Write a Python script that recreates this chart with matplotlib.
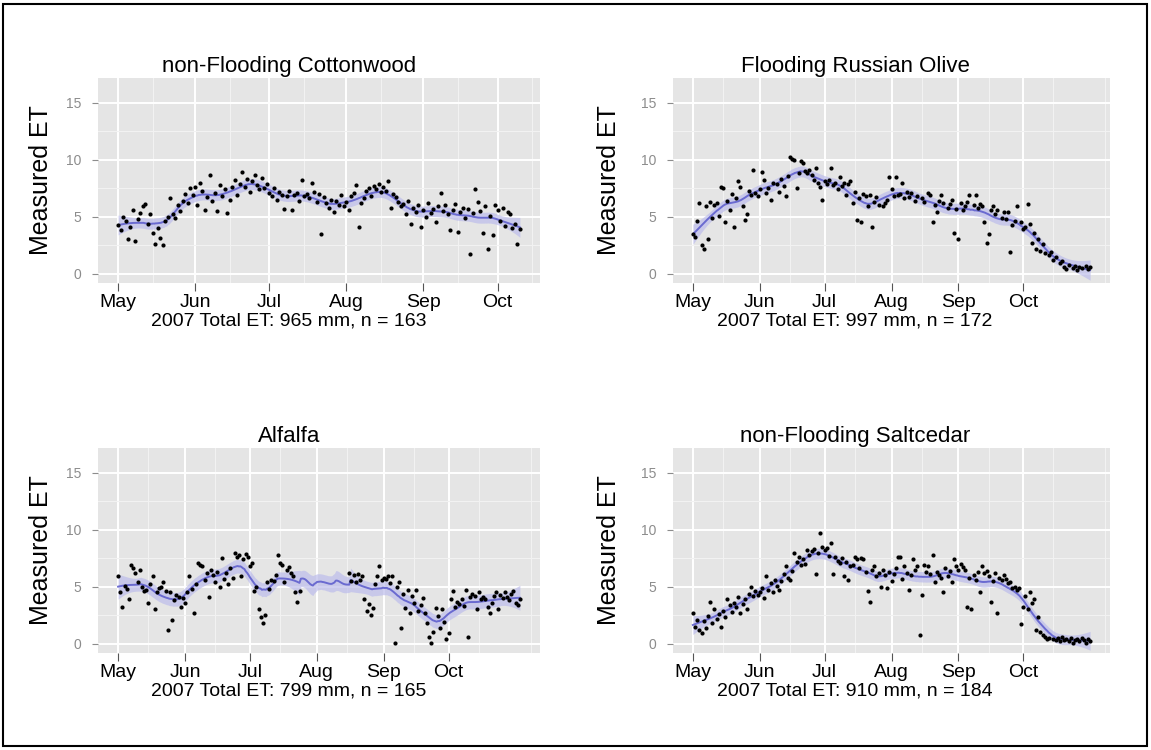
import numpy as np
import matplotlib
matplotlib.use('Agg')
import matplotlib.pyplot as plt
import matplotlib.dates as mdates
from matplotlib.patches import Rectangle

plt.rcParams['font.family'] = ['Liberation Sans', 'DejaVu Sans']

nan = np.nan
start_date = np.datetime64('2007-05-01')

titles = ['non-Flooding Cottonwood', 'Flooding Russian Olive', 'Alfalfa', 'non-Flooding Saltcedar']
total_et = [965, 997, 799, 910]
n_obs = [163, 172, 165, 184]
month_labels = ['May', 'Jun', 'Jul', 'Aug', 'Sep', 'Oct']
month_starts = ['2007-05-01', '2007-06-01', '2007-07-01', '2007-08-01', '2007-09-01', '2007-10-01']
month_mids = ['2007-05-15', '2007-06-15', '2007-07-15', '2007-08-15', '2007-09-15', '2007-10-15', '2007-11-08']

# daily measured ET (mm/day), first value is May 1, nan = no measurement
cottonwood = [
    4.3, 3.8, 5.0, 4.6, 3.0, 4.1, 5.6, 2.9, 4.8, 5.3,
    5.9, 6.1, 4.4, 5.2, 3.6, 2.6, 4.0, 3.1, 2.5, 4.6,
    5.0, 6.6, 5.2, 4.9, 6.0, 5.5, 6.4, 7.0, 6.2, 7.5,
    6.9, 7.6, 6.0, 8.0, 7.3, 5.6, 6.7, 8.7, 6.4, 7.1,
    5.5, 7.8, 6.8, 7.4, 5.3, 6.5, 7.6, 8.2, 6.9, 7.9,
    8.9, 7.6, 8.3, 7.2, 8.1, 8.7, 7.8, 7.4, 8.4, 7.5,
    7.9, 7.1, 6.8, 7.5, 6.5, 7.2, 6.9, 5.7, 6.8, 7.3,
    5.6, 6.9, 7.1, 6.4, 8.2, 6.8, 7.0, 6.6, 8.0, 7.2,
    6.3, 7.0, 3.5, 6.7, 6.2, 5.8, 6.5, 5.4, 6.4, 6.0,
    6.9, 5.9, 6.3, 5.6, 6.8, 7.1, 7.8, 4.1, 6.2, 6.6,
    7.3, 7.5, 6.8, 7.7, 7.4, 7.9, 7.2, 7.6, 7.3, 8.1,
    5.8, 7.0, 6.7, 6.3, 5.9, 6.1, 5.2, 6.4, 4.4, 5.8,
    5.4, 6.0, 4.1, 5.6, 5.0, 6.2, 5.3, 5.7, 4.5, 5.9,
    7.1, 5.5, 6.0, 5.2, 3.8, 5.6, 6.1, 3.7, 5.4, 5.8,
    4.9, 5.7, 1.7, 5.3, 7.4, 6.3, 5.5, 3.6, 5.9, 2.2,
    5.1, 3.4, 6.0, 5.6, 4.6, 5.8, 4.2, 5.4, 5.2, 4.0,
    4.4, 2.6, 3.9,
]

russian_olive = [
    3.5, 3.2, 4.6, 6.2, 2.5, 2.2, 5.9, 3.0, 6.3, 4.9,
    6.0, 6.2, 5.1, 7.6, 7.5, 4.5, 6.4, 5.6, 7.0, 4.1,
    6.6, 8.1, 7.6, 5.9, 4.7, 5.2, 7.3, 6.9, 9.1, 7.1,
    6.8, 7.4, 8.9, 8.2, 7.1, 7.5, 6.5, 8.0, nan, 7.9,
    7.2, 8.3, 7.7, 6.8, 8.6, 10.2, 10.1, 10.0, 7.5, 8.8,
    9.9, 9.7, 9.0, 8.8, 9.1, 8.7, 8.2, 9.3, 8.0, 7.6,
    6.5, 8.1, 7.9, 8.2, 9.3, 7.8, 8.0, 7.4, 8.5, 7.7,
    8.0, 6.9, 7.9, 8.1, 6.2, 7.2, 4.7, 6.6, 4.5, 7.0,
    6.8, 5.9, 6.9, 4.1, 6.3, 6.7, 6.0, nan, 5.9, 6.2,
    6.5, 8.5, 7.4, 6.8, 8.5, 6.9, 7.0, 8.0, 6.6, 7.2,
    6.7, 7.1, nan, 6.4, 6.8, nan, 6.6, 6.3, nan, 7.1,
    6.9, 4.5, 6.0, 5.4, 6.4, 6.9, 6.2, nan, 5.8, 6.1,
    6.5, 3.6, 5.7, 3.0, 6.2, 5.6, 5.9, 6.3, 6.9, nan,
    6.0, 6.9, 5.8, 6.1, 5.9, 4.5, 2.7, 3.5, 5.6, 5.9,
    5.2, 5.6, nan, 4.9, 5.4, 4.8, 5.4, 1.9, 4.3, 4.6,
    5.9, nan, 4.5, 3.9, 4.1, 6.1, 4.4, 2.7, 3.6, 2.2,
    3.0, 2.0, 2.6, 1.8, nan, 1.6, 1.9, 1.2, 1.5, nan,
    0.9, 1.1, 0.6, 0.4, 0.8, nan, 0.5, 0.7, 0.3, 0.6,
    0.5, nan, 0.7, 0.4, 0.6,
]

alfalfa = [
    5.9, 4.5, 3.2, 5.1, 4.8, 3.9, 6.9, 6.6, 6.2, 5.4,
    6.5, 5.0, 4.6, 4.7, 3.6, 5.2, 5.9, 3.0, 4.5, 4.9,
    5.0, 5.4, 4.6, 1.2, 4.5, 2.1, 3.8, 4.3, 4.1, 3.2,
    4.0, 3.6, 4.5, 5.9, 4.8, 2.7, 5.2, 7.1, 6.9, 6.8,
    5.6, 6.2, 4.1, 6.5, 6.0, 5.4, 6.3, 5.0, 7.5, 5.7,
    6.2, 5.2, 6.6, 5.8, 8.0, 7.6, 7.8, 5.9, 7.4, 7.9,
    7.6, 6.8, 7.1, 4.6, 5.0, 3.0, 2.3, 1.8, 2.5, 5.4,
    4.8, 5.6, 5.5, 6.0, 7.8, 7.1, 6.9, 5.4, 6.5, 6.7,
    6.2, 5.9, 4.5, 3.7, 4.6, nan, nan, nan, nan, nan,
    nan, nan, nan, nan, nan, nan, nan, nan, nan, nan,
    nan, nan, nan, nan, nan, nan, nan, 6.2, 5.5, 6.0,
    5.4, 6.1, 5.6, 5.9, 3.9, 2.9, 3.5, 2.5, 3.1, 5.2,
    5.9, 6.8, 5.6, 5.8, 5.7, 5.9, 5.3, 5.9, 0.1, 5.0,
    5.4, 1.4, 4.4, 3.1, 4.7, 2.7, 4.2, 3.6, 4.7, 2.9,
    3.4, 4.0, 2.7, 1.8, 0.6, 0.1, 1.0, 3.1, 2.4, 1.4,
    3.0, 1.9, 0.4, 0.9, 3.9, 4.6, 3.2, 3.7, 3.5, 3.9,
    3.3, 4.7, 0.6, 4.1, 4.4, 4.2, 3.0, 4.5, 3.9, 4.1,
    3.9, 3.2, 2.7, 3.6, 4.2, 4.5, 3.0, 4.3, 4.0, 4.5,
    4.1, 3.8, 4.4, 4.6, 3.6, 3.4, 3.9,
]

saltcedar = [
    2.7, 1.5, 2.1, 1.2, 0.9, 2.0, 1.4, 2.4, 3.7, 1.8,
    3.0, 2.2, 2.6, 1.5, 2.9, 2.3, 3.9, 3.4, 2.8, 3.6,
    3.2, 4.1, 2.7, 3.5, 3.9, 3.0, 4.4, 5.0, 4.2, 4.6,
    4.3, 4.5, 4.9, 4.0, 5.9, 4.7, 5.3, 4.5, 5.6, 5.1,
    4.7, 5.5, 6.1, 6.8, 5.8, 5.6, 6.4, 8.0, 7.2, 7.6,
    6.9, 7.4, 7.0, 8.2, 7.8, 8.1, 8.3, 6.1, 8.0, 9.7,
    8.5, 8.2, 8.4, 7.7, 8.8, 6.1, 7.6, 7.3, 7.1, 7.5,
    5.9, 7.2, 5.6, 6.8, 6.9, 7.6, 7.4, 6.6, 7.5, 7.4,
    6.3, 4.6, 3.7, 6.5, 6.8, 5.9, 6.2, 5.0, 6.5, 6.0,
    4.9, 6.3, 5.5, 6.1, 6.6, 7.6, 7.6, 5.7, 6.8, 6.2,
    4.7, 6.0, 7.4, 6.5, 6.8, 0.8, 4.3, 6.9, 6.3, 6.8,
    6.1, 7.8, 5.4, 6.3, 6.0, 5.8, 4.5, 6.6, 5.9, 6.4,
    5.4, 7.4, 6.8, 6.5, 7.0, 6.7, 6.5, 3.2, 5.8, 3.0,
    6.0, 5.6, 6.3, 4.5, 6.8, 6.2, 6.4, 5.9, 3.7, 5.5,
    6.2, 2.7, 5.8, 5.6, 6.0, 5.7, 5.3, 5.4, 4.9, 5.0,
    4.7, 4.9, 1.7, 3.2, 4.2, 3.0, 4.5, 3.6, 3.9, 1.2,
    2.3, 1.0, 0.8, 0.6, 0.4, 0.5, nan, 0.4, 0.3, 0.5,
    0.2, 0.6, 0.3, 0.4, 0.2, 0.5, 0.1, 0.3, 0.4, 0.2,
    0.5, 0.3, 0.1, 0.4, 0.2,
]

series = [cottonwood, russian_olive, alfalfa, saltcedar]


def loess(x, y, xs, frac=0.13):
    # local linear regression with tricube weights, like geom_smooth(method="loess")
    n = len(x)
    k = int(np.ceil(frac * n))

    def row(x0):
        d = np.abs(x - x0)
        h = np.sort(d)[k - 1]
        # inside a gap in the record, reach points on both sides
        left, right = x0 - x[x <= x0], x[x >= x0] - x0
        if len(left) and len(right):
            h = max(h, 1.3 * max(left.min(), right.min()))
        h = max(h, 1e-9) * 1.0001
        w = np.clip(1 - (d / h) ** 3, 0, None) ** 3
        X = np.column_stack([np.ones(n), x - x0])
        W = X.T * w
        return np.linalg.solve(W @ X, W)[0]

    L = np.array([row(x0) for x0 in x])
    res = y - L @ y
    sigma = np.sqrt(np.sum(res ** 2) / (n - np.trace(L)))
    Ls = np.array([row(x0) for x0 in xs])
    return Ls @ y, sigma * np.sqrt(np.sum(Ls ** 2, axis=1))


W, H = 1151, 750
fig = plt.figure(figsize=(W / 100, H / 100), dpi=100)
# axes boxes in pixels: left, top, right, bottom
boxes = [(98, 78, 540, 283), (673, 78, 1110, 283), (98, 448, 540, 653), (673, 448, 1110, 653)]
ylab_x = [53, 621, 53, 621]     # right edge of the rotated y label
centre_x = [289, 855, 289, 855]  # titles and x labels centred on the half page

t0 = mdates.date2num(start_date)
major_x = [mdates.date2num(np.datetime64(d)) for d in month_starts]
minor_x = [mdates.date2num(np.datetime64(d)) for d in month_mids]

for i, vals in enumerate(series):
    l, t, r, b = boxes[i]
    ax = fig.add_axes([l / W, 1 - b / H, (r - l) / W, (b - t) / H])
    v = np.array(vals, dtype=float)
    days = t0 + np.arange(len(v))
    ok = ~np.isnan(v)
    x, y = days[ok], v[ok]

    xs = np.linspace(x.min(), x.max(), 300)
    fit, se = loess(x, y, xs)

    ax.set_facecolor('#E5E5E5')
    for m in minor_x:
        ax.axvline(m, color='#F2F2F2', lw=0.8, zorder=0)
    for m in major_x:
        ax.axvline(m, color='white', lw=1.4, zorder=0)
    for yy in [2.5, 7.5, 12.5]:
        ax.axhline(yy, color='#F2F2F2', lw=0.8, zorder=0)
    for yy in [0, 5, 10, 15]:
        ax.axhline(yy, color='white', lw=1.4, zorder=0)

    ax.fill_between(xs, fit - 1.96 * se, fit + 1.96 * se, color='#BDBDEB', alpha=0.7, lw=0, zorder=1)
    ax.plot(xs, fit, color='#6A6AD0', lw=1.4, zorder=2)
    ax.scatter(x, y, s=9, color='black', lw=0, zorder=3)

    span = x.max() - x.min()
    ax.set_xlim(x.min() - 0.05 * span, x.max() + 0.05 * span)
    ax.set_ylim(-0.82, 17.18)
    ax.set_xticks(major_x)
    ax.set_xticklabels(month_labels, fontsize=14)
    ax.set_yticks([0, 5, 10, 15])
    ax.set_yticklabels(['0', '5', '10', '15'], fontsize=10, color='#8C8C8C')
    ax.tick_params(axis='x', length=6, width=0.8, color='#555555', pad=2)
    ax.tick_params(axis='y', length=4, width=0.8, color='#8C8C8C', pad=8)
    for s in ax.spines.values():
        s.set_visible(False)

    cx = (centre_x[i] - l) / (r - l)
    ax.set_title(titles[i], fontsize=16, pad=4, x=cx)
    ax.set_xlabel(f'2007 Total ET: {total_et[i]} mm, n = {n_obs[i]}', fontsize=14, labelpad=1)
    ax.xaxis.label.set_x(cx)
    ax.set_ylabel('Measured ET', fontsize=18)
    ax.yaxis.set_label_coords((ylab_x[i] - l) / (r - l), 0.5)

fig.patches.append(Rectangle((3 / W, 4 / H), 1144 / W, 742 / H, transform=fig.transFigure,
                             fill=False, ec='black', lw=1.5))

fig.savefig('out.png', dpi=100)
